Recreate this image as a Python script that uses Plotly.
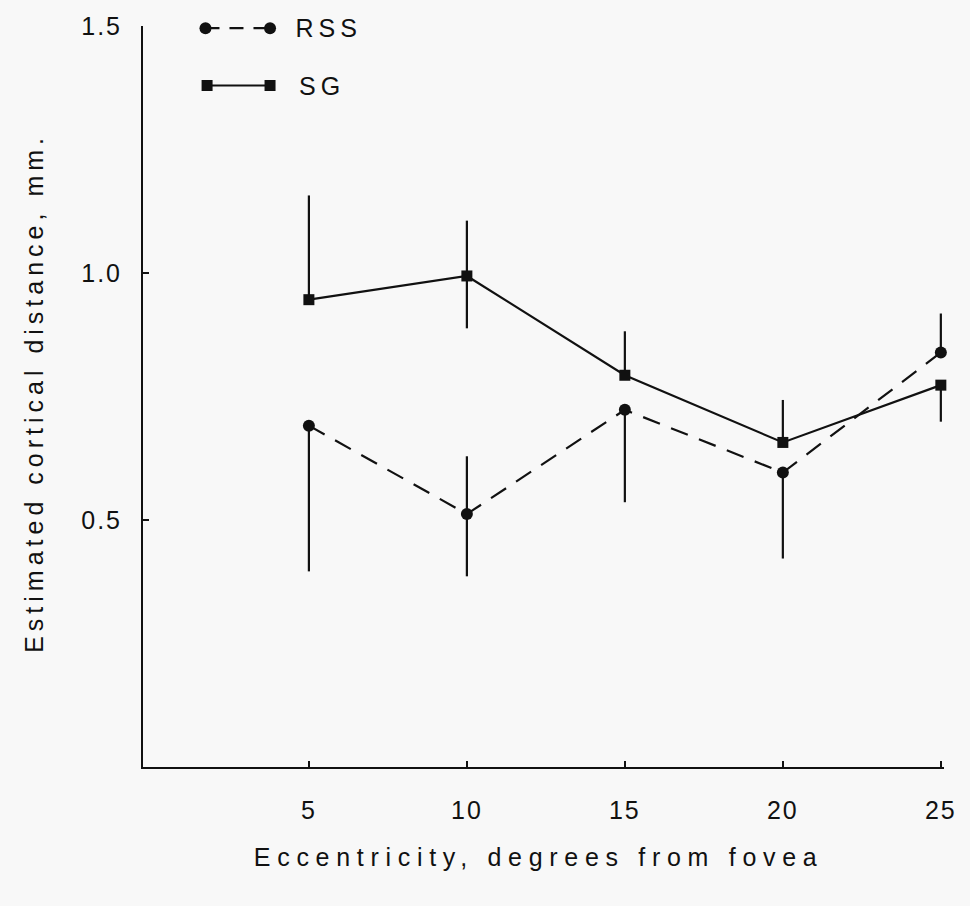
import plotly.graph_objects as go

# ---- data ----
eccentricity = [5, 10, 15, 20, 25]
rss_values = [0.691, 0.512, 0.723, 0.596, 0.839]
rss_err_plus = [0.0, 0.117, 0.0, 0.0, 0.079]
rss_err_minus = [0.295, 0.126, 0.187, 0.174, 0.0]
sg_values = [0.946, 0.994, 0.793, 0.657, 0.773]
sg_err_plus = [0.211, 0.112, 0.089, 0.086, 0.0]
sg_err_minus = [0.0, 0.106, 0.0, 0.0, 0.074]
x_tick_vals = [5, 10, 15, 20, 25]
x_tick_text = ["5", "10", "15", "20", "25"]
y_tick_vals = [0.5, 1.0, 1.5]
y_tick_text = ["0.5", "1.0", "1.5"]
series_names = ["RSS", "SG"]
x_title = "Eccentricity, degrees from fovea"
y_title = "Estimated cortical distance, mm."

FONT = "Liberation Sans, Arial, Helvetica, sans-serif"
INK = "#111111"
BG = "#f8f8f8"

fig = go.Figure()

fig.add_trace(go.Scatter(
    x=eccentricity, y=sg_values, name=series_names[1],
    mode="lines+markers",
    line=dict(color=INK, width=2.2, dash="solid"),
    marker=dict(symbol="square", size=11, color=INK),
    error_y=dict(type="data", symmetric=False, array=sg_err_plus,
                 arrayminus=sg_err_minus, thickness=2.2, width=0, color=INK),
    cliponaxis=False, showlegend=False,
))
fig.add_trace(go.Scatter(
    x=eccentricity, y=rss_values, name=series_names[0],
    mode="lines+markers",
    line=dict(color=INK, width=2.2, dash="18px,12px"),
    marker=dict(symbol="circle", size=12, color=INK),
    error_y=dict(type="data", symmetric=False, array=rss_err_plus,
                 arrayminus=rss_err_minus, thickness=2.2, width=0, color=INK),
    cliponaxis=False, showlegend=False,
))

# ---- hand-drawn style legend (overlay axes in 0..1 units) ----
fig.add_trace(go.Scatter(
    x=[0.078, 0.1586], y=[0.997, 0.997], xaxis="x2", yaxis="y2",
    mode="lines+markers", line=dict(color=INK, width=2.2, dash="14px,10px"),
    marker=dict(symbol="circle", size=12, color=INK),
    cliponaxis=False, showlegend=False, hoverinfo="skip",
))
fig.add_trace(go.Scatter(
    x=[0.080, 0.1586], y=[0.9197, 0.9197], xaxis="x2", yaxis="y2",
    mode="lines+markers", line=dict(color=INK, width=2.2),
    marker=dict(symbol="square", size=11, color=INK),
    cliponaxis=False, showlegend=False, hoverinfo="skip",
))

annotations = [
    dict(text=series_names[0], x=0.197, y=0.997, xref="paper", yref="paper",
         xanchor="left", yanchor="middle", showarrow=False,
         font=dict(family=FONT, size=25, color=INK)),
    dict(text=series_names[1], x=0.198, y=0.9197, xref="paper", yref="paper",
         xanchor="left", yanchor="middle", showarrow=False,
         font=dict(family=FONT, size=25, color=INK)),
    dict(text=x_title, x=0.494, y=-0.122,
         xref="paper", yref="paper", xanchor="center", yanchor="middle",
         showarrow=False, font=dict(family=FONT, size=25, color=INK)),
    dict(text=y_title, x=-0.136, y=0.505,
         xref="paper", yref="paper", xanchor="center", yanchor="middle",
         textangle=-90, showarrow=False,
         font=dict(family=FONT, size=25, color=INK)),
]

fig.update_layout(
    width=970, height=906,
    margin=dict(l=143, r=26, t=20, b=139, pad=0),
    paper_bgcolor=BG, plot_bgcolor=BG,
    font=dict(family=FONT, size=25, color=INK),
    showlegend=False,
    annotations=annotations,
    xaxis=dict(range=[-0.25, 25.1], showgrid=False, zeroline=False,
               showline=True, linecolor=INK, linewidth=2,
               ticks="inside", ticklen=6, tickwidth=2, tickcolor=INK,
               tickvals=x_tick_vals, ticktext=x_tick_text,
               ticklabelstandoff=20,
               tickfont=dict(family=FONT, size=25, color=INK)),
    yaxis=dict(range=[0, 1.5], showgrid=False, zeroline=False,
               showline=True, linecolor=INK, linewidth=2,
               ticks="inside", ticklen=6, tickwidth=2, tickcolor=INK,
               tickvals=y_tick_vals, ticktext=y_tick_text,
               ticklabelstandoff=14,
               tickfont=dict(family=FONT, size=25, color=INK)),
    xaxis2=dict(range=[0, 1], overlaying="x", visible=False, fixedrange=True),
    yaxis2=dict(range=[0, 1], overlaying="y", visible=False, fixedrange=True),
)

post = """
var gd = document.getElementById('{plot_id}');
function spaceText(){
  gd.querySelectorAll('.annotation-text').forEach(function(t){
    var s = t.textContent;
    if (s.indexOf('Eccentricity') === 0) { t.style.letterSpacing = '6.7px'; }
    else { t.style.letterSpacing = '5px'; }
  });
  gd.querySelectorAll('.xtick text, .ytick text').forEach(function(t){ t.style.letterSpacing='2px'; });
}
spaceText();
gd.on && gd.on('plotly_afterplot', spaceText);
"""

fig.write_html("out.html", post_script=post)
